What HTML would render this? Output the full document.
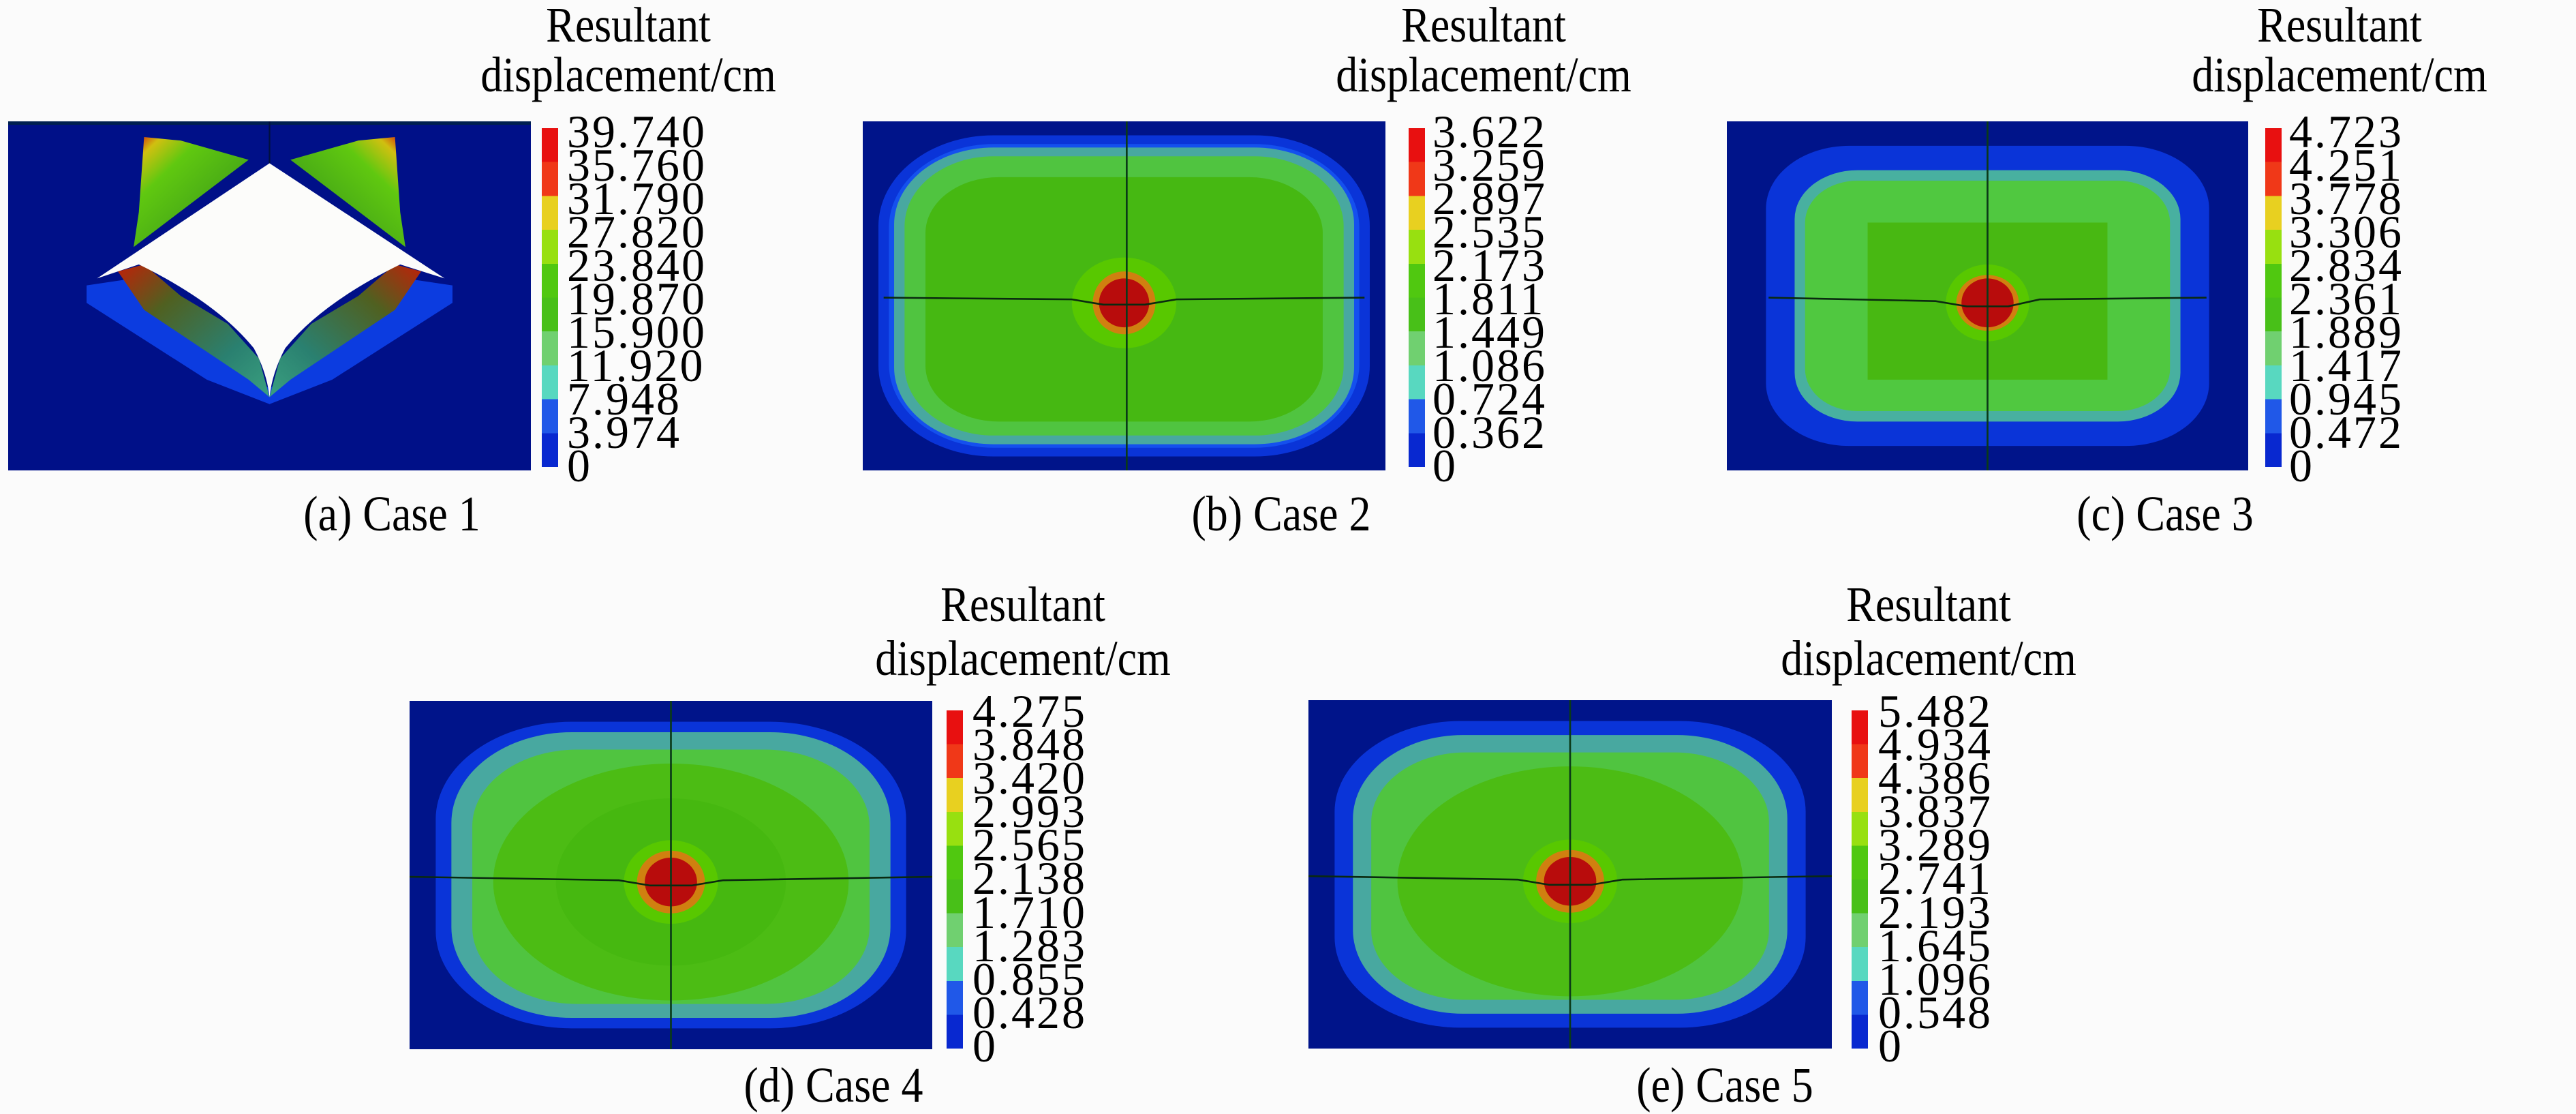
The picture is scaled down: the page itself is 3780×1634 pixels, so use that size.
<!DOCTYPE html>
<html><head><meta charset="utf-8"><style>
body{margin:0;background:#fbfbfb;}
#c{position:relative;width:3780px;height:1634px;overflow:hidden;background:#fbfbfb;font-family:"Liberation Serif","Times New Roman",serif;color:#000;}
.t{position:absolute;font-family:"Liberation Serif","Times New Roman",serif;font-size:68px;line-height:68px;letter-spacing:3px;white-space:nowrap;margin-top:-2px;}
.ct{position:absolute;font-family:"Liberation Serif","Times New Roman",serif;font-size:64px;line-height:64px;white-space:nowrap;transform:translateX(-50%) scaleY(1.15);transform-origin:50% 50%;}
svg{position:absolute;}
.cb{position:absolute;width:24px;}
</style></head><body><div id="c">

<!-- Panel a -->
<svg style="left:12px;top:178px" width="767" height="512" viewBox="0 0 100 100" preserveAspectRatio="none">
<defs>
<linearGradient id="wl" x1="0" y1="0" x2="1" y2="1"><stop offset="0" stop-color="#d01008"/><stop offset="0.12" stop-color="#d0c010"/><stop offset="0.3" stop-color="#60c810"/><stop offset="0.75" stop-color="#40a018"/><stop offset="1" stop-color="#0a3a30"/></linearGradient>
<linearGradient id="wr" x1="1" y1="0" x2="0" y2="1"><stop offset="0" stop-color="#d01008"/><stop offset="0.12" stop-color="#d0c010"/><stop offset="0.3" stop-color="#60c810"/><stop offset="0.75" stop-color="#40a018"/><stop offset="1" stop-color="#0a3a30"/></linearGradient>
<linearGradient id="ll" x1="0" y1="0" x2="1" y2="1"><stop offset="0" stop-color="#c02008"/><stop offset="0.3" stop-color="#506020"/><stop offset="0.7" stop-color="#2a8070"/><stop offset="1" stop-color="#3aa080"/></linearGradient>
<linearGradient id="lr" x1="1" y1="0" x2="0" y2="1"><stop offset="0" stop-color="#c02008"/><stop offset="0.3" stop-color="#506020"/><stop offset="0.7" stop-color="#2a8070"/><stop offset="1" stop-color="#3aa080"/></linearGradient>
</defs>
<rect x="0" y="0" width="100" height="100" fill="#001088"/>
<rect x="0" y="0" width="100" height="1" fill="#002050"/>
<line x1="50" y1="0" x2="50" y2="12" stroke="#001040" stroke-width="0.3"/>
<polygon points="15,47 24,45 52,79 50,81 38,74 15,52" fill="#0c3ce0"/>
<polygon points="85,47 76,45 48,79 50,81 62,74 85,52" fill="#0c3ce0"/>
<polygon points="26,4.5 33,5.5 46,11 24,36 25,26" fill="url(#wl)"/>
<polygon points="74,4.5 67,5.5 54,11 76,36 75,26" fill="url(#wr)"/>
<polygon points="21,43 26,41 33,50 42,58 48,68 50,79 46,74 26,54" fill="url(#ll)"/>
<polygon points="79,43 74,41 67,50 58,58 52,68 50,79 54,74 74,54" fill="url(#lr)"/>
<path d="M50,12 L17,45 L25,41 Q40,52 47,65 Q49.5,72 50,79 Q50.5,72 53,65 Q60,52 75,41 L83.5,45 Z" fill="#fcfcfa"/>
</svg>
<div class="cb" style="left:795px;top:188px;height:497px;background:linear-gradient(#e81010 0 10%,#f03818 10% 20%,#e8d020 20% 30%,#98e010 30% 40%,#50c810 40% 50%,#48c018 50% 60%,#70d070 60% 70%,#58d8c0 70% 80%,#2058e8 80% 90%,#0828d0 90% 100%)"></div>
<div class="ct" style="left:922px;top:5px">Resultant</div>
<div class="ct" style="left:922px;top:78px">displacement/cm</div>
<div class="t" style="left:832px;top:161px">39.740</div>
<div class="t" style="left:832px;top:210px">35.760</div>
<div class="t" style="left:832px;top:259px">31.790</div>
<div class="t" style="left:832px;top:308px">27.820</div>
<div class="t" style="left:832px;top:357px">23.840</div>
<div class="t" style="left:832px;top:406px">19.870</div>
<div class="t" style="left:832px;top:455px">15.900</div>
<div class="t" style="left:832px;top:504px">11.920</div>
<div class="t" style="left:832px;top:553px">7.948</div>
<div class="t" style="left:832px;top:602px">3.974</div>
<div class="t" style="left:832px;top:651px">0</div>
<div class="ct" style="left:575px;top:722px">(a) Case 1</div>

<!-- Panel b -->
<svg style="left:1266px;top:178px" width="767" height="512" viewBox="0 0 100 100" preserveAspectRatio="none">
<rect width="100" height="100" fill="#00148a"/>
<rect x="3" y="4" width="94" height="92" rx="22" ry="26" fill="#0a34d8"/>
<rect x="5" y="6.5" width="90" height="87" rx="20" ry="24" fill="#1450ee"/>
<rect x="6" y="7.5" width="88" height="85" rx="19" ry="22" fill="#48a8a0"/>
<rect x="8" y="10" width="84" height="80" rx="17" ry="20" fill="#50c440"/>
<rect x="12" y="16" width="76" height="70" rx="14" ry="16" fill="#46b812"/>
<ellipse cx="50" cy="52" rx="10" ry="13" fill="#58c800"/>
<ellipse cx="50" cy="52" rx="6" ry="9" fill="#d08010"/>
<ellipse cx="50" cy="52" rx="4.8" ry="7" fill="#b80c0c"/>
<line x1="50.5" y1="0" x2="50.5" y2="100" stroke="#0a3a18" stroke-width="0.35"/>
<polyline points="4,50.5 40,51 46,52.5 54,52.5 60,51 96,50.5" fill="none" stroke="#0a2a10" stroke-width="0.5"/>
</svg>
<div class="cb" style="left:2067px;top:188px;height:497px;background:linear-gradient(#e81010 0 10%,#f03818 10% 20%,#e8d020 20% 30%,#98e010 30% 40%,#50c810 40% 50%,#48c018 50% 60%,#70d070 60% 70%,#58d8c0 70% 80%,#2058e8 80% 90%,#0828d0 90% 100%)"></div>
<div class="ct" style="left:2177px;top:5px">Resultant</div>
<div class="ct" style="left:2177px;top:78px">displacement/cm</div>
<div class="t" style="left:2102px;top:161px">3.622</div>
<div class="t" style="left:2102px;top:210px">3.259</div>
<div class="t" style="left:2102px;top:259px">2.897</div>
<div class="t" style="left:2102px;top:308px">2.535</div>
<div class="t" style="left:2102px;top:357px">2.173</div>
<div class="t" style="left:2102px;top:406px">1.811</div>
<div class="t" style="left:2102px;top:455px">1.449</div>
<div class="t" style="left:2102px;top:504px">1.086</div>
<div class="t" style="left:2102px;top:553px">0.724</div>
<div class="t" style="left:2102px;top:602px">0.362</div>
<div class="t" style="left:2102px;top:651px">0</div>
<div class="ct" style="left:1880px;top:722px">(b) Case 2</div>

<!-- Panel c -->
<svg style="left:2534px;top:178px" width="765" height="512" viewBox="0 0 100 100" preserveAspectRatio="none">
<rect width="100" height="100" fill="#00148a"/>
<rect x="7.5" y="7" width="85" height="86" rx="16" ry="18" fill="#0a34d8"/>
<rect x="13" y="14" width="74" height="72" rx="12" ry="14" fill="#48b0a0"/>
<rect x="15" y="17" width="70" height="66" rx="10" ry="12" fill="#50c840"/>
<rect x="27" y="29" width="46" height="45" fill="#48b812"/>
<ellipse cx="50" cy="52" rx="8" ry="11" fill="#58c800"/>
<ellipse cx="50" cy="52" rx="6" ry="8" fill="#d08010"/>
<ellipse cx="50" cy="52" rx="5" ry="7" fill="#b80c0c"/>
<line x1="50" y1="0" x2="50" y2="100" stroke="#0a3a18" stroke-width="0.35"/>
<polyline points="8,50.5 40,51.5 46,53 54,53 60,51 92,50.5" fill="none" stroke="#0a2a10" stroke-width="0.5"/>
</svg>
<div class="cb" style="left:3324px;top:188px;height:497px;background:linear-gradient(#e81010 0 10%,#f03818 10% 20%,#e8d020 20% 30%,#98e010 30% 40%,#50c810 40% 50%,#48c018 50% 60%,#70d070 60% 70%,#58d8c0 70% 80%,#2058e8 80% 90%,#0828d0 90% 100%)"></div>
<div class="ct" style="left:3433px;top:5px">Resultant</div>
<div class="ct" style="left:3433px;top:78px">displacement/cm</div>
<div class="t" style="left:3359px;top:161px">4.723</div>
<div class="t" style="left:3359px;top:210px">4.251</div>
<div class="t" style="left:3359px;top:259px">3.778</div>
<div class="t" style="left:3359px;top:308px">3.306</div>
<div class="t" style="left:3359px;top:357px">2.834</div>
<div class="t" style="left:3359px;top:406px">2.361</div>
<div class="t" style="left:3359px;top:455px">1.889</div>
<div class="t" style="left:3359px;top:504px">1.417</div>
<div class="t" style="left:3359px;top:553px">0.945</div>
<div class="t" style="left:3359px;top:602px">0.472</div>
<div class="t" style="left:3359px;top:651px">0</div>
<div class="ct" style="left:3177px;top:722px">(c) Case 3</div>

<!-- Panel d -->
<svg style="left:601px;top:1028px" width="767" height="511" viewBox="0 0 100 100" preserveAspectRatio="none">
<rect width="100" height="100" fill="#00148a"/>
<rect x="5" y="6" width="90" height="88" rx="26" ry="28" fill="#0a34d8"/>
<rect x="8" y="9" width="84" height="82" rx="23" ry="26" fill="#48a8a0"/>
<rect x="12" y="14" width="76" height="73" rx="20" ry="22" fill="#50c440"/>
<ellipse cx="50" cy="52" rx="34" ry="34" fill="#4cbc14"/>
<ellipse cx="50" cy="52" rx="22" ry="24" fill="#46b810"/>
<ellipse cx="50" cy="52" rx="9" ry="12" fill="#58c800"/>
<ellipse cx="50" cy="52" rx="6.5" ry="9" fill="#d08010"/>
<ellipse cx="50" cy="52" rx="5" ry="7" fill="#b80c0c"/>
<line x1="50" y1="0" x2="50" y2="100" stroke="#0a3a18" stroke-width="0.35"/>
<polyline points="0,50.5 40,51.5 46,53 54,53 60,51.5 100,50.5" fill="none" stroke="#0a2a10" stroke-width="0.5"/>
</svg>
<div class="cb" style="left:1389px;top:1042px;height:496px;background:linear-gradient(#e81010 0 10%,#f03818 10% 20%,#e8d020 20% 30%,#98e010 30% 40%,#50c810 40% 50%,#48c018 50% 60%,#70d070 60% 70%,#58d8c0 70% 80%,#2058e8 80% 90%,#0828d0 90% 100%)"></div>
<div class="ct" style="left:1501px;top:855px">Resultant</div>
<div class="ct" style="left:1501px;top:934px">displacement/cm</div>
<div class="t" style="left:1427px;top:1011px">4.275</div>
<div class="t" style="left:1427px;top:1060px">3.848</div>
<div class="t" style="left:1427px;top:1109px">3.420</div>
<div class="t" style="left:1427px;top:1158px">2.993</div>
<div class="t" style="left:1427px;top:1207px">2.565</div>
<div class="t" style="left:1427px;top:1256px">2.138</div>
<div class="t" style="left:1427px;top:1306px">1.710</div>
<div class="t" style="left:1427px;top:1355px">1.283</div>
<div class="t" style="left:1427px;top:1404px">0.855</div>
<div class="t" style="left:1427px;top:1453px">0.428</div>
<div class="t" style="left:1427px;top:1502px">0</div>
<div class="ct" style="left:1223px;top:1560px">(d) Case 4</div>

<!-- Panel e -->
<svg style="left:1920px;top:1027px" width="768" height="511" viewBox="0 0 100 100" preserveAspectRatio="none">
<rect width="100" height="100" fill="#00148a"/>
<rect x="5" y="6" width="90" height="88" rx="24" ry="26" fill="#0a34d8"/>
<rect x="8.5" y="10" width="83" height="80" rx="21" ry="24" fill="#48a8a0"/>
<rect x="12" y="15" width="76" height="71" rx="18" ry="20" fill="#50c440"/>
<ellipse cx="50" cy="52" rx="33" ry="33" fill="#4cbc14"/>
<ellipse cx="50" cy="52" rx="9" ry="12" fill="#58c800"/>
<ellipse cx="50" cy="52" rx="6.5" ry="9" fill="#d08010"/>
<ellipse cx="50" cy="52" rx="5" ry="7" fill="#b80c0c"/>
<line x1="50" y1="0" x2="50" y2="100" stroke="#0a3a18" stroke-width="0.35"/>
<polyline points="0,50.5 40,51.5 46,53 54,53 60,51.5 100,50.5" fill="none" stroke="#0a2a10" stroke-width="0.5"/>
</svg>
<div class="cb" style="left:2717px;top:1042px;height:496px;background:linear-gradient(#e81010 0 10%,#f03818 10% 20%,#e8d020 20% 30%,#98e010 30% 40%,#50c810 40% 50%,#48c018 50% 60%,#70d070 60% 70%,#58d8c0 70% 80%,#2058e8 80% 90%,#0828d0 90% 100%)"></div>
<div class="ct" style="left:2830px;top:855px">Resultant</div>
<div class="ct" style="left:2830px;top:934px">displacement/cm</div>
<div class="t" style="left:2756px;top:1011px">5.482</div>
<div class="t" style="left:2756px;top:1060px">4.934</div>
<div class="t" style="left:2756px;top:1109px">4.386</div>
<div class="t" style="left:2756px;top:1158px">3.837</div>
<div class="t" style="left:2756px;top:1207px">3.289</div>
<div class="t" style="left:2756px;top:1256px">2.741</div>
<div class="t" style="left:2756px;top:1306px">2.193</div>
<div class="t" style="left:2756px;top:1355px">1.645</div>
<div class="t" style="left:2756px;top:1404px">1.096</div>
<div class="t" style="left:2756px;top:1453px">0.548</div>
<div class="t" style="left:2756px;top:1502px">0</div>
<div class="ct" style="left:2531px;top:1560px">(e) Case 5</div>

</div></body></html>
